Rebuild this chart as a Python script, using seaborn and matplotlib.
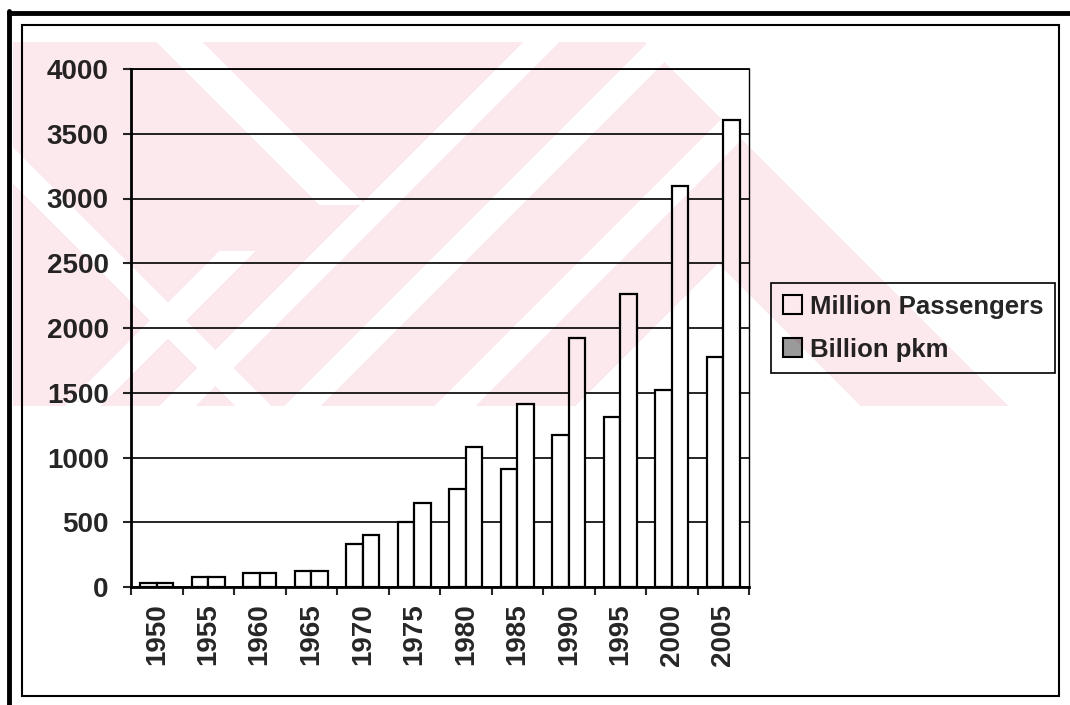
import numpy as np
import pandas as pd
import matplotlib
matplotlib.use('Agg')
import matplotlib.pyplot as plt
from matplotlib.lines import Line2D
from matplotlib.patches import Rectangle
import seaborn as sns

years = ['1950', '1955', '1960', '1965', '1970', '1975',
         '1980', '1985', '1990', '1995', '2000', '2005']
passengers = [30, 75, 110, 125, 330, 500, 755, 910, 1175, 1310, 1520, 1775]
pkm = [30, 75, 110, 125, 400, 645, 1080, 1415, 1920, 2260, 3100, 3610]
series_names = ['Million Passengers', 'Billion pkm']

df = pd.DataFrame({
    'year': years * 2,
    'value': passengers + pkm,
    'series': [series_names[0]] * len(years) + [series_names[1]] * len(years),
})

sns.set_style('white')
plt.rcParams['font.family'] = ['Liberation Sans', 'DejaVu Sans']
plt.rcParams['font.weight'] = 'bold'

W, H = 1070, 705
fig = plt.figure(figsize=(W / 100, H / 100), dpi=100)
fig.patch.set_facecolor('white')

def fx(x):
    return x / W

def fy(y):
    return 1 - y / H

ax = fig.add_axes([fx(131), fy(587), fx(749 - 131), (587 - 69) / H])

sns.barplot(data=df, x='year', y='value', hue='series', palette=['white', 'white'],
            edgecolor='black', linewidth=1.6, width=0.64, saturation=1,
            errorbar=None, ax=ax)

ax.set_xlim(-0.5, 11.5)
ax.set_ylim(0, 4000)
ax.set_yticks(range(0, 4001, 500))
ax.set_xlabel('')
ax.set_ylabel('')

# grid behind the bars
ax.set_axisbelow(True)
ax.yaxis.grid(True, color='black', linewidth=1.2)
ax.xaxis.grid(False)

ax.tick_params(axis='y', direction='out', length=6, width=1.5, pad=10,
               labelsize=20, left=True)
ax.tick_params(axis='x', which='major', length=0, pad=12, labelsize=20,
               labelrotation=90)
ax.set_xticks(np.arange(-0.5, 12, 1), minor=True)
ax.tick_params(axis='x', which='minor', direction='out', length=5.5, width=1.5,
               bottom=True)
for lab in ax.get_xticklabels() + ax.get_yticklabels():
    lab.set_fontweight('bold')

for side, lw in [('left', 2.0), ('bottom', 2.0), ('top', 1.3), ('right', 1.0)]:
    ax.spines[side].set_visible(True)
    ax.spines[side].set_color('black')
    ax.spines[side].set_linewidth(lw)

# legend
handles, labels = ax.get_legend_handles_labels()
leg = ax.legend(handles, labels, loc='upper left',
                bbox_to_anchor=(fx(771), fy(283)), bbox_transform=fig.transFigure,
                prop={'size': 18.5, 'weight': 'bold'}, frameon=True, fancybox=False,
                edgecolor='black', framealpha=1, handlelength=0.75,
                handleheight=0.75, handletextpad=0.3, labelspacing=0.75,
                borderpad=0.45, borderaxespad=0)
leg.get_frame().set_linewidth(1.2)
leg.legend_handles[1].set_facecolor('#9a9a9a')
for h in leg.legend_handles:
    h.set_edgecolor('black')
    h.set_linewidth(1.5)

# page frame
fig.add_artist(Line2D([fx(9), fx(1070)], [fy(13), fy(13)], color='black', linewidth=3.5,
                      transform=fig.transFigure))
fig.add_artist(Line2D([fx(9), fx(9)], [fy(11), fy(705)], color='black', linewidth=3.5,
                      transform=fig.transFigure))
fig.add_artist(Rectangle((fx(22), fy(696)), fx(1059 - 22), (696 - 25) / H, fill=False,
                         edgecolor='black', linewidth=1.5, transform=fig.transFigure))

# render, then multiply the faint pink scan watermark over the picture
fig.canvas.draw()
img = np.asarray(fig.canvas.buffer_rgba())[..., :3].astype(float) / 255
h, w = img.shape[:2]
yy, xx = np.mgrid[0:h, 0:w]
s = xx + yy
d = xx - yy
inside = (xx >= 13) & (xx <= 1010) & (yy >= 42) & (yy <= 405)
white = (((d >= 115) & (d <= 160) & (yy < 205))
         | ((s >= 565) & (s <= 600))
         | ((s >= 690) & (s <= 725))
         | ((s >= 470) & (s <= 505) & (yy > 250))
         | ((d >= -170) & (d <= -135))
         | ((s >= 840) & (s <= 880))
         | ((s > 980) & (d < 455))
         | (d > 602))
pink = inside & ~white
img[pink] *= np.array([252, 233, 237]) / 255
plt.imsave('out.png', np.clip(img, 0, 1))
